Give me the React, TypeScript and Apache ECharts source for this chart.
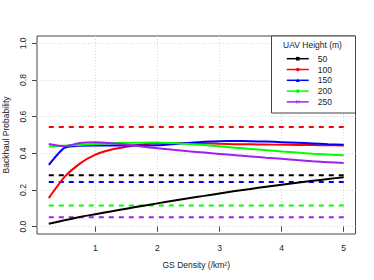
import React, { useEffect, useRef } from 'react';
import * as echarts from 'echarts';

const xValues = [0.25, 0.5, 0.75, 1, 1.25, 1.5, 1.75, 2, 2.25, 2.5, 2.75, 3, 3.25, 3.5, 3.75, 4, 4.25, 4.5, 4.75, 5];
const heights = ['50', '100', '150', '200', '250'];
const h50 = [0.016, 0.035, 0.053, 0.068, 0.083, 0.098, 0.113, 0.127, 0.141, 0.155, 0.168, 0.181, 0.194, 0.206, 0.218, 0.229, 0.240, 0.250, 0.260, 0.270];
const h100 = [0.156, 0.27, 0.344, 0.393, 0.42, 0.436, 0.448, 0.455, 0.457, 0.457, 0.455, 0.452, 0.45, 0.449, 0.448, 0.447, 0.446, 0.445, 0.444, 0.443];
const h150 = [0.337, 0.43, 0.442, 0.443, 0.443, 0.443, 0.443, 0.444, 0.45, 0.457, 0.463, 0.466, 0.467, 0.466, 0.464, 0.461, 0.458, 0.454, 0.45, 0.447];
const h200 = [0.437, 0.442, 0.446, 0.451, 0.455, 0.457, 0.458, 0.459, 0.456, 0.451, 0.445, 0.438, 0.431, 0.424, 0.417, 0.41, 0.404, 0.398, 0.393, 0.389];
const h250 = [0.451, 0.439, 0.456, 0.46, 0.455, 0.447, 0.437, 0.428, 0.419, 0.411, 0.404, 0.397, 0.39, 0.383, 0.376, 0.37, 0.363, 0.357, 0.352, 0.347];
const refLevels = [0.28, 0.544, 0.244, 0.115, 0.051];
const colors = ['#000000', '#FF0000', '#0000FF', '#00FF00', '#A020F0'];
const symbols = [
  'rect',
  'circle',
  'triangle',
  'circle',
  'path://M0,1L1,0L5,4L9,0L10,1L6,5L10,9L9,10L5,6L1,10L0,9L4,5Z',
];
const xTicks = [1, 2, 3, 4, 5];
const yTicks = [0, 0.2, 0.4, 0.6, 0.8, 1.0];
const yTickLabels = ['0.0', '0.2', '0.4', '0.6', '0.8', '1.0'];

const FONT = 'Liberation Sans';
const FS = 8.5;

export default function App() {
  const ref = useRef<HTMLDivElement>(null);
  useEffect(() => {
    if (!ref.current) return;
    const chart = echarts.init(ref.current, null, { renderer: 'svg' });
    const solid = [h50, h100, h150, h200, h250];
    const series: any[] = [];
    solid.forEach((vals, i) => {
      series.push({
        name: heights[i],
        type: 'line',
        data: xValues.map((x, j) => [x, vals[j]]),
        symbol: symbols[i],
        symbolSize: i === 3 ? 5 : 6,
        showSymbol: false,
        smooth: 0.2,
        itemStyle: { color: colors[i] },
        lineStyle: { color: colors[i], width: 2 },
        z: 3,
      });
    });
    refLevels.forEach((v, i) => {
      series.push({
        name: 'ref' + heights[i],
        type: 'line',
        data: [
          [xValues[0], v],
          [xValues[xValues.length - 1], v],
        ],
        symbol: 'none',
        itemStyle: { color: colors[i] },
        lineStyle: { color: colors[i], width: 2, type: [5, 5] },
        z: 2,
      });
    });
    chart.setOption({
      animation: false,
      grid: {
        left: 37,
        right: 18.5,
        top: 36,
        bottom: 46,
        show: true,
        borderColor: '#444',
        borderWidth: 1,
        containLabel: false,
        outerBoundsMode: 'none',
      },
      xAxis: {
        type: 'value',
        min: 0.06,
        max: 5.19,
        axisLine: { show: false },
        axisTick: { show: true, inside: false, length: 5, lineStyle: { color: '#444' }, customValues: xTicks },
        axisLabel: {
          customValues: xTicks,
          fontFamily: FONT,
          fontSize: FS,
          color: '#222',
          margin: 9,
        },
        splitLine: { show: true, lineStyle: { color: '#d8d8d8', type: [1, 2], width: 1 } },
        name: 'GS Density (/km²)',
        nameLocation: 'middle',
        nameGap: 26,
        nameTextStyle: { fontFamily: FONT, fontSize: FS, color: '#222' },
      },
      yAxis: {
        type: 'value',
        min: -0.04,
        max: 1.04,
        axisLine: { show: false },
        axisTick: { show: true, inside: false, length: 5, lineStyle: { color: '#444' }, customValues: yTicks },
        axisLabel: {
          customValues: yTicks,
          rotate: 90,
          fontFamily: FONT,
          fontSize: FS,
          color: '#222',
          margin: 10,
          formatter: (v: number) => {
            const idx = yTicks.findIndex((t) => Math.abs(t - v) < 1e-6);
            return idx >= 0 ? yTickLabels[idx] : '';
          },
        },
        splitLine: { show: true, lineStyle: { color: '#d8d8d8', type: [1, 2], width: 1 } },
        name: 'Backhaul Probability',
        nameLocation: 'middle',
        nameGap: 27,
        nameTextStyle: { fontFamily: FONT, fontSize: FS, color: '#222' },
      },
      legend: {
        data: heights,
        orient: 'vertical',
        left: 286,
        top: 53.3,
        padding: 0,
        itemWidth: 22,
        itemHeight: 4.5,
        itemGap: 0,
        z: 10,
        lineStyle: { width: 1.5 },
        textStyle: { fontFamily: FONT, fontSize: FS, color: '#222', lineHeight: 10.8, padding: [0, 0, 0, 4] },
      },
      graphic: [
        {
          type: 'rect',
          shape: { x: 271.5, y: 36, width: 84, height: 77 },
          style: { fill: '#fff', stroke: '#444', lineWidth: 1 },
          z: 5,
        },
        {
          type: 'text',
          x: 312.5,
          y: 45,
          style: {
            text: 'UAV Height (m)',
            fontFamily: FONT,
            fontSize: FS,
            fill: '#222',
            align: 'center',
            verticalAlign: 'middle',
          },
          z: 6,
        },
      ],
      series,
    });
    return () => chart.dispose();
  }, []);
  return <div ref={ref} style={{ width: 374, height: 280, position: 'absolute', left: 0, top: 0 }} />;
}
